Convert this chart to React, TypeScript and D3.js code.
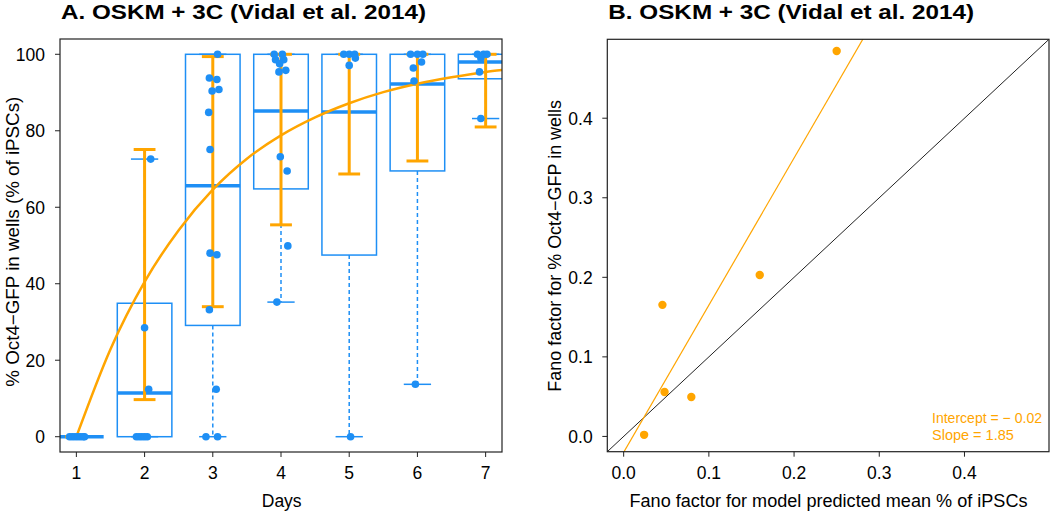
import React from "react";
import * as d3 from "d3";

// ---------- Panel A data ----------
const days = [1, 2, 3, 4, 5, 6, 7];
const boxQ1 = [0, 0, 29.1, 64.8, 47.5, 69.5, 93.6];
const boxMedian = [0, 11.4, 65.6, 85.2, 84.9, 92.2, 98.0];
const boxQ3 = [0, 34.9, 100, 100, 100, 100, 100];
const whiskerLow = [0, 0, 0, 35.2, 0, 13.7, 83.2];
const whiskerHigh = [0, 72.6, 100, 100, 100, 100, 100];
const errLow = [0, 9.7, 34.0, 55.4, 68.7, 72.1, 81.0];
const errHigh = [0, 75.1, 99.4, 100, 100, 100, 100];

const wellValues = [
  [0, 0, 0, 0, 0, 0, 0],
  [72.6, 28.5, 12.4, 0, 0, 0, 0, 0],
  [100, 93.8, 93.4, 90.4, 90.8, 84.8, 75.1, 48, 47.6, 33.2, 12.4, 0, 0],
  [100, 100, 98.6, 98.6, 97.5, 95.4, 95.8, 73.2, 69.5, 49.9, 35.2],
  [100, 100, 100, 99, 97.1, 0],
  [100, 100, 100, 98, 96.4, 93, 13.7],
  [100, 100, 100, 99, 95.4, 83.2],
];
const wellJitter = [
  [-0.1, -0.06, -0.02, 0.02, 0.06, 0.1, 0.12],
  [0.09, 0, 0.06, -0.12, -0.08, -0.04, 0, 0.04],
  [0.07, -0.05, 0.06, -0.01, 0.09, -0.06, -0.04, -0.04, 0.06, -0.05, 0.05, -0.1, 0.07],
  [-0.1, 0.02, -0.08, 0.04, -0.02, -0.03, 0.07, -0.01, 0.09, 0.1, -0.06],
  [-0.08, 0, 0.08, 0.09, 0, 0.02],
  [-0.1, 0, 0.08, 0.06, -0.06, -0.05, -0.03],
  [-0.12, -0.03, 0.02, -0.07, -0.09, -0.07],
];

const fitDays = [1, 1.5, 2, 2.5, 3, 3.5, 4, 4.5, 5, 5.5, 6, 6.5, 7, 7.24];
const fitValues = [0, 22.9, 40.5, 54, 64.6, 72.7, 78.8, 83.5, 87.2, 90.1, 92.3, 94.0, 95.4, 95.9];

const yTicksA = [0, 20, 40, 60, 80, 100];

// ---------- Panel B data ----------
const fanoModel = [0.024, 0.0455, 0.048, 0.0794, 0.1597, 0.25];
const fanoObserved = [0.002, 0.1654, 0.0559, 0.0496, 0.203, 0.4845];
const fitIntercept = -0.02;
const fitSlope = 1.85;
const ticksB = [0, 0.1, 0.2, 0.3, 0.4];

const BLUE = "#1E8FF5";
const ORANGE = "#FFA500";
const INK = "#000";
const FONT = "'Liberation Sans', Arial, Helvetica, sans-serif";

export default function App() {
  // Panel A scales
  const xA = d3.scaleLinear().domain([0.76, 7.24]).range([60, 502]);
  const yA = d3.scaleLinear().domain([-4, 104]).range([452, 39]);
  // Panel B scales
  const xB = d3.scaleLinear().domain([-0.0192, 0.4992]).range([607.3, 1049]);
  const yB = d3.scaleLinear().domain([-0.0192, 0.4992]).range([451.7, 39.3]);

  const curve = d3
    .line<number>()
    .x((_, i) => xA(fitDays[i]))
    .y((d) => yA(d))
    .curve(d3.curveMonotoneX)(fitValues);

  const bw = 0.4;
  const cw = 0.2;
  const ew = 0.16;
  const tick = 5;

  const [bx0, bx1] = xB.domain();
  return (
    <svg
      width={1050}
      height={512}
      style={{ position: "absolute", left: 0, top: 0, display: "block" }}
      fontFamily={FONT}
    >
      <rect width={1050} height={512} fill="#fff" />
      <defs>
        <clipPath id="clipA">
          <rect x={60} y={39} width={442} height={413} />
        </clipPath>
        <clipPath id="clipB">
          <rect x={607.3} y={39.3} width={441.7} height={412.4} />
        </clipPath>
      </defs>

      {/* ---------------- Panel A ---------------- */}
      <text x={61} y={19} fontSize={21} fontWeight="bold" textLength={365} lengthAdjust="spacingAndGlyphs" fill={INK}>
        A. OSKM + 3C (Vidal et al. 2014)
      </text>
      <g clipPath="url(#clipA)">
        {days.map((d, i) => (
          <g key={"box" + d}>
            {whiskerLow[i] < boxQ1[i] && (
              <line x1={xA(d)} x2={xA(d)} y1={yA(boxQ1[i])} y2={yA(whiskerLow[i])} stroke={BLUE} strokeWidth={1.5} strokeDasharray="4,3" />
            )}
            {whiskerHigh[i] > boxQ3[i] && (
              <line x1={xA(d)} x2={xA(d)} y1={yA(boxQ3[i])} y2={yA(whiskerHigh[i])} stroke={BLUE} strokeWidth={1.5} strokeDasharray="4,3" />
            )}
            <line x1={xA(d - cw)} x2={xA(d + cw)} y1={yA(whiskerLow[i])} y2={yA(whiskerLow[i])} stroke={BLUE} strokeWidth={1.5} />
            <line x1={xA(d - cw)} x2={xA(d + cw)} y1={yA(whiskerHigh[i])} y2={yA(whiskerHigh[i])} stroke={BLUE} strokeWidth={1.5} />
            <rect
              x={xA(d - bw)}
              y={yA(boxQ3[i])}
              width={xA(d + bw) - xA(d - bw)}
              height={yA(boxQ1[i]) - yA(boxQ3[i])}
              fill="none"
              stroke={BLUE}
              strokeWidth={1.5}
            />
            <line x1={xA(d - bw)} x2={xA(d + bw)} y1={yA(boxMedian[i])} y2={yA(boxMedian[i])} stroke={BLUE} strokeWidth={3.5} />
          </g>
        ))}
        <path d={curve || ""} fill="none" stroke={ORANGE} strokeWidth={2.5} />
        {days.map((d, i) => (
          <g key={"err" + d} stroke={ORANGE} strokeWidth={3}>
            <line x1={xA(d)} x2={xA(d)} y1={yA(errLow[i])} y2={yA(errHigh[i])} />
            <line x1={xA(d - ew)} x2={xA(d + ew)} y1={yA(errLow[i])} y2={yA(errLow[i])} />
            <line x1={xA(d - ew)} x2={xA(d + ew)} y1={yA(errHigh[i])} y2={yA(errHigh[i])} />
          </g>
        ))}
        {days.map((d, i) =>
          wellValues[i].map((v, j) => (
            <circle key={"p" + d + "-" + j} cx={xA(d + wellJitter[i][j])} cy={yA(v)} r={3.8} fill={BLUE} />
          ))
        )}
      </g>
      <rect x={60} y={39} width={442} height={413} fill="none" stroke="#222" strokeWidth={1.2} />
      {yTicksA.map((t) => (
        <g key={"ya" + t}>
          <line x1={60 - tick} x2={60} y1={yA(t)} y2={yA(t)} stroke="#222" />
          <text x={45} y={yA(t)} dy="0.36em" textAnchor="end" fontSize={17.5} fill={INK}>
            {t}
          </text>
        </g>
      ))}
      {days.map((d) => (
        <g key={"xa" + d}>
          <line x1={xA(d)} x2={xA(d)} y1={452} y2={452 + tick} stroke="#222" />
          <text x={xA(d)} y={479} textAnchor="middle" fontSize={17.5} fill={INK}>
            {d}
          </text>
        </g>
      ))}
      <text x={281.7} y={507} textAnchor="middle" fontSize={17.5} fill={INK}>
        Days
      </text>
      <text
        transform={`translate(19,241.7) rotate(-90)`}
        textAnchor="middle"
        fontSize={17.5}
        textLength={290}
        lengthAdjust="spacingAndGlyphs"
        fill={INK}
      >
        % Oct4−GFP in wells (% of iPSCs)
      </text>

      {/* ---------------- Panel B ---------------- */}
      <text x={608.3} y={19} fontSize={21} fontWeight="bold" textLength={365.7} lengthAdjust="spacingAndGlyphs" fill={INK}>
        B. OSKM + 3C (Vidal et al. 2014)
      </text>
      <g clipPath="url(#clipB)">
        <line x1={xB(bx0)} y1={yB(bx0)} x2={xB(bx1)} y2={yB(bx1)} stroke="#222" strokeWidth={1} />
        <line
          x1={xB(bx0)}
          y1={yB(fitIntercept + fitSlope * bx0)}
          x2={xB(bx1)}
          y2={yB(fitIntercept + fitSlope * bx1)}
          stroke={ORANGE}
          strokeWidth={1.2}
        />
        {fanoModel.map((m, i) => (
          <circle key={"f" + i} cx={xB(m)} cy={yB(fanoObserved[i])} r={4.2} fill={ORANGE} />
        ))}
      </g>
      <rect x={607.3} y={39.3} width={441.7} height={412.4} fill="none" stroke="#222" strokeWidth={1.2} />
      {ticksB.map((t) => (
        <g key={"yb" + t}>
          <line x1={607.3 - tick} x2={607.3} y1={yB(t)} y2={yB(t)} stroke="#222" />
          <text x={592.7} y={yB(t)} dy="0.36em" textAnchor="end" fontSize={17.5} fill={INK}>
            {t.toFixed(1)}
          </text>
        </g>
      ))}
      {ticksB.map((t) => (
        <g key={"xb" + t}>
          <line x1={xB(t)} x2={xB(t)} y1={451.7} y2={451.7 + tick} stroke="#222" />
          <text x={xB(t)} y={479} textAnchor="middle" fontSize={17.5} fill={INK}>
            {t.toFixed(1)}
          </text>
        </g>
      ))}
      <text x={828.5} y={507} textAnchor="middle" fontSize={17.5} textLength={398} lengthAdjust="spacingAndGlyphs" fill={INK}>
        Fano factor for model predicted mean % of iPSCs
      </text>
      <text
        transform={`translate(560.5,245.8) rotate(-90)`}
        textAnchor="middle"
        fontSize={17.5}
        textLength={291.7}
        lengthAdjust="spacingAndGlyphs"
        fill={INK}
      >
        Fano factor for % Oct4−GFP in wells
      </text>
      <text x={932} y={423} fontSize={14.5} fill={ORANGE} textLength={110} lengthAdjust="spacingAndGlyphs">
        Intercept = − 0.02
      </text>
      <text x={932} y={440} fontSize={14.5} fill={ORANGE}>
        Slope = 1.85
      </text>
    </svg>
  );
}
